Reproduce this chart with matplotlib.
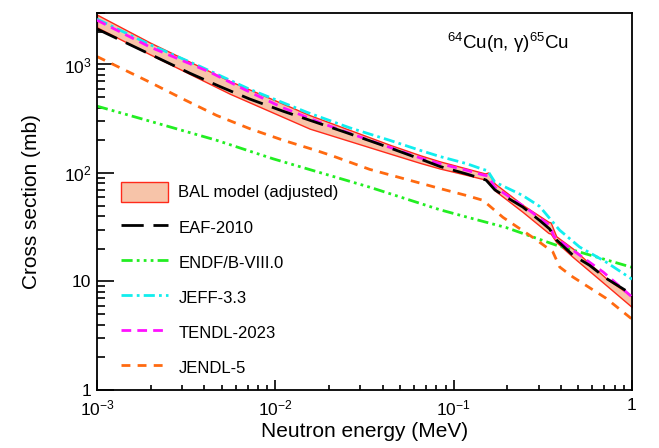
import numpy as np
import matplotlib
matplotlib.use("Agg")
import matplotlib.pyplot as plt
from matplotlib.ticker import FixedLocator, FixedFormatter, LogLocator, NullFormatter

plt.rcParams["font.family"] = ["Liberation Sans", "DejaVu Sans"]
plt.rcParams["mathtext.fontset"] = "custom"
plt.rcParams["mathtext.rm"] = "Liberation Sans"
plt.rcParams["mathtext.it"] = "Liberation Sans:italic"

# BAL model band (MeV, mb)
band_e = [0.001, 0.00198, 0.00556, 0.0156, 0.0438, 0.0646, 0.0835, 0.118, 0.150, 0.156,
          0.170, 0.244, 0.340, 0.350, 0.376, 0.466, 0.716, 1.0]
band_hi = [2880, 1594, 703, 341, 182, 146, 128, 110, 99, 101,
           80, 50.7, 35.5, 35.0, 26.1, 20.1, 10.7, 7.3]
band_lo = [2200, 1240, 537, 256, 151, 124, 110, 96, 87, 85,
           69, 43.7, 28.0, 27.6, 23.1, 16.8, 9.25, 5.8]

eaf_e = [0.001, 0.00225, 0.00332, 0.00489, 0.00719, 0.0111, 0.0170, 0.0251, 0.0385, 0.0646,
         0.0835, 0.118, 0.146, 0.152, 0.17, 0.197, 0.244, 0.303, 0.345, 0.376,
         0.466, 0.578, 0.716, 1.0]
eaf_xs = [2125, 1126, 830, 626, 480, 370, 292, 235, 184, 135,
          115, 98, 88, 86, 70, 60, 48.6, 36.6, 30.5, 24.3,
          17.5, 14.1, 10.7, 7.6]

endf_e = [0.001, 0.00207, 0.00469, 0.00973, 0.0338, 0.0835, 0.118, 0.197, 0.376, 1.0]
endf_xs = [413, 294, 200, 135, 74, 45.9, 39.3, 31.4, 21.6, 13.5]

jeff_e = [0.001, 0.00198, 0.00378, 0.00719, 0.015, 0.0261, 0.0438, 0.0646, 0.0835, 0.118,
          0.146, 0.155, 0.17, 0.244, 0.303, 0.393, 0.508, 0.716, 1.0]
jeff_xs = [2620, 1525, 960, 590, 363, 261, 200, 162, 142, 122,
           108, 105, 82.6, 62, 49.3, 29.7, 20.8, 15.1, 10.5]

tendl_e = [0.001, 0.00198, 0.0043, 0.0069, 0.011, 0.0185, 0.0338, 0.0646, 0.0835, 0.118,
           0.146, 0.155, 0.17, 0.244, 0.345, 0.365, 0.44, 0.69, 1.0]
tendl_xs = [2560, 1450, 850, 575, 400, 285, 200, 138, 122, 106,
            96, 94, 74, 50, 33, 26, 20.8, 12.2, 7.2]

jendl_e = [0.001, 0.00198, 0.00304, 0.00469, 0.00719, 0.0111, 0.0170, 0.0211, 0.0338, 0.0835,
           0.118, 0.146, 0.189, 0.29, 0.36, 0.393, 0.466, 0.716, 1.0]
jendl_xs = [1183, 686, 480, 339, 256, 200, 161, 143, 108, 72,
            62, 56, 39, 24.3, 18.7, 13.6, 11.0, 7.0, 4.5]

fig = plt.figure(figsize=(6.59, 4.48), dpi=100)
ax = fig.add_axes([97 / 659, 1 - 390 / 448, 535 / 659, 377.3 / 448])

lw = 2.0
ax.fill_between(band_e, band_lo, band_hi, facecolor="#f7c4a9", edgecolor="#ff2a1a",
                linewidth=1.0, label="BAL model (adjusted)", zorder=1)
ax.plot(endf_e, endf_xs, color="#22ee22", lw=lw, ls=(0, (4, 1.5, 1, 1.5, 1, 1.5, 1, 1.5)),
        label="ENDF/B-VIII.0", zorder=2)
ax.plot(jendl_e, jendl_xs, color="#ff6a10", lw=lw, ls=(0, (3.2, 2.6)),
        label="JENDL-5", zorder=2)
ax.plot(jeff_e, jeff_xs, color="#11eeee", lw=lw, ls=(0, (4, 1.5, 1, 1.5)),
        label="JEFF-3.3", zorder=3)
ax.plot(tendl_e, tendl_xs, color="#ff11ff", lw=lw, ls=(0, (3.5, 2.2)),
        label="TENDL-2023", zorder=4)
ax.plot(eaf_e, eaf_xs, color="black", lw=lw, ls=(0, (8, 3.5)),
        label="EAF-2010", zorder=5)

ax.set_xscale("log")
ax.set_yscale("log")
ax.set_xlim(1e-3, 1)
ax.set_ylim(1, 3000)

ax.xaxis.set_major_locator(FixedLocator([1e-3, 1e-2, 1e-1, 1]))
ax.xaxis.set_major_formatter(FixedFormatter([r"$10^{-3}$", r"$10^{-2}$", r"$10^{-1}$", "1"]))
ax.yaxis.set_major_locator(FixedLocator([1, 10, 100, 1000]))
ax.yaxis.set_major_formatter(FixedFormatter(["1", "10", r"$10^{2}$", r"$10^{3}$"]))
ax.xaxis.set_minor_locator(LogLocator(base=10, subs=np.arange(2, 10)))
ax.yaxis.set_minor_locator(LogLocator(base=10, subs=np.arange(2, 10)))
ax.xaxis.set_minor_formatter(NullFormatter())
ax.yaxis.set_minor_formatter(NullFormatter())

ax.tick_params(axis="both", which="both", direction="in", top=False, right=False,
               labelsize=12.5, width=1.2)
ax.tick_params(axis="x", which="major", length=7, pad=6)
ax.tick_params(axis="x", which="minor", length=3.5)
ax.tick_params(axis="y", which="major", length=12, pad=4)
ax.tick_params(axis="y", which="minor", length=6)
for s in ax.spines.values():
    s.set_linewidth(1.3)

ax.set_xlabel("Neutron energy (MeV)", fontsize=15, labelpad=3)
ax.set_ylabel("Cross section (mb)", fontsize=15, labelpad=16)

ax.text(0.768, 0.92, "$^{64}$Cu(n, γ)$^{65}$Cu", transform=ax.transAxes,
        fontsize=13.5, ha="center", va="center")

handles, labels = ax.get_legend_handles_labels()
order = ["BAL model (adjusted)", "EAF-2010", "ENDF/B-VIII.0", "JEFF-3.3", "TENDL-2023", "JENDL-5"]
hmap = dict(zip(labels, handles))
ax.legend([hmap[k] for k in order], order, loc="upper left",
          bbox_to_anchor=(121 / 659, 1 - 182 / 448), bbox_transform=fig.transFigure,
          frameon=False, fontsize=12, borderpad=0, borderaxespad=0,
          handlelength=2.8, handleheight=1.45, handletextpad=0.65, labelspacing=0.92)

fig.savefig("out.png", dpi=100)
